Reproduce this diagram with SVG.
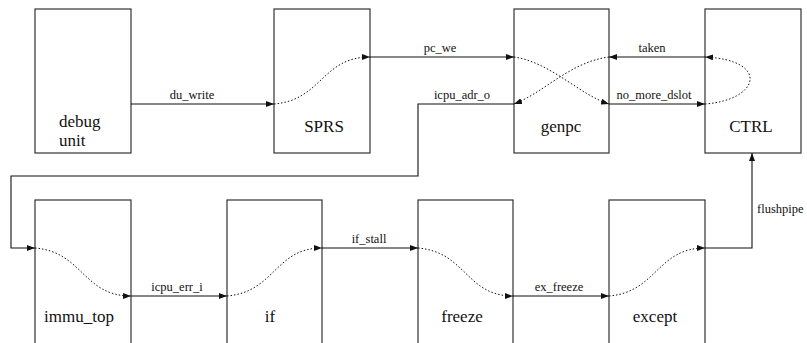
<svg xmlns="http://www.w3.org/2000/svg" width="807" height="343" viewBox="0 0 807 343">
  <style>
    .box { fill: #fff; stroke: #333; stroke-width: 1.2; }
    .name { font-size: 17px; fill: #111; text-anchor: middle; }
    .sig { font-size: 12.5px; fill: #111; text-anchor: middle; }
    .left { text-anchor: start; }
    .wire { fill: none; stroke: #111; stroke-width: 1.1; marker-end: url(#ah); }
    .path { fill: none; stroke: #111; stroke-width: 1; stroke-dasharray: 1.5 2; marker-end: url(#ah); }
  </style>
  <defs>
    <marker id="ah" markerWidth="8" markerHeight="6" refX="8" refY="3" orient="auto" markerUnits="userSpaceOnUse">
      <path d="M0,0 L8,3 L0,6 z" fill="#111"/>
    </marker>
  </defs>
  <rect width="807" height="343" fill="#fff"/>

  <g font-family="'Liberation Serif', 'DejaVu Serif', serif">
  <!-- top row -->
  <g id="debug_unit">
    <rect class="box" x="35" y="9" width="96" height="144"/>
    <text class="name left" x="59" y="127">debug</text>
    <text class="name left" x="59" y="146">unit</text>
  </g>
  <g id="sprs">
    <rect class="box" x="274" y="9" width="96" height="144"/>
    <text class="name" x="324" y="132">SPRS</text>
  </g>
  <g id="genpc">
    <rect class="box" x="514" y="9" width="95" height="144"/>
    <text class="name" x="561" y="132">genpc</text>
  </g>
  <g id="ctrl">
    <rect class="box" x="705" y="9" width="96" height="144"/>
    <text class="name" x="751" y="132">CTRL</text>
  </g>

  <!-- bottom row -->
  <g id="immu_top">
    <rect class="box" x="35" y="200" width="96" height="145"/>
    <text class="name" x="79" y="322">immu_top</text>
  </g>
  <g id="if">
    <rect class="box" x="227" y="200" width="95" height="145"/>
    <text class="name" x="270" y="322">if</text>
  </g>
  <g id="freeze">
    <rect class="box" x="418" y="200" width="95" height="145"/>
    <text class="name" x="462" y="322">freeze</text>
  </g>
  <g id="except">
    <rect class="box" x="609" y="200" width="96" height="145"/>
    <text class="name" x="655" y="322">except</text>
  </g>

  <g id="connectors">
    <!-- signals between blocks -->
    <path class="wire" d="M131,104 H274"/>
    <text class="sig" x="192" y="99">du_write</text>

    <path class="wire" d="M370,57 H514"/>
    <text class="sig" x="440" y="52">pc_we</text>

    <path class="wire" d="M609,104 H705"/>
    <text class="sig" x="654" y="99">no_more_dslot</text>

    <path class="wire" d="M705,57 H609"/>
    <text class="sig" x="652" y="52">taken</text>

    <path class="wire" d="M514,104 H418 V176 H11 V248 H35"/>
    <text class="sig" x="462" y="99">icpu_adr_o</text>

    <path class="wire" d="M131,296 H227"/>
    <text class="sig" x="177" y="291">icpu_err_i</text>

    <path class="wire" d="M322,248 H418"/>
    <text class="sig" x="369" y="243">if_stall</text>

    <path class="wire" d="M513,296 H609"/>
    <text class="sig" x="559" y="291">ex_freeze</text>

    <path class="wire" d="M705,248 H752 V153"/>
    <text class="sig left" x="757" y="213">flushpipe</text>

    <!-- internal paths through each block -->
    <path class="path" d="M274,104 C322,100 322,57 370,57"/>
    <path class="path" d="M514,57 C550,62 580,95 609,104"/>
    <path class="path" d="M609,57 C570,62 545,92 514,104"/>
    <path class="path" d="M705,104 C760,100 770,60 705,57"/>
    <path class="path" d="M35,248 C83,252 83,296 131,296"/>
    <path class="path" d="M227,296 C275,292 275,248 322,248"/>
    <path class="path" d="M418,248 C466,252 466,296 513,296"/>
    <path class="path" d="M609,296 C657,292 657,248 705,248"/>
  </g>
  </g>
</svg>
